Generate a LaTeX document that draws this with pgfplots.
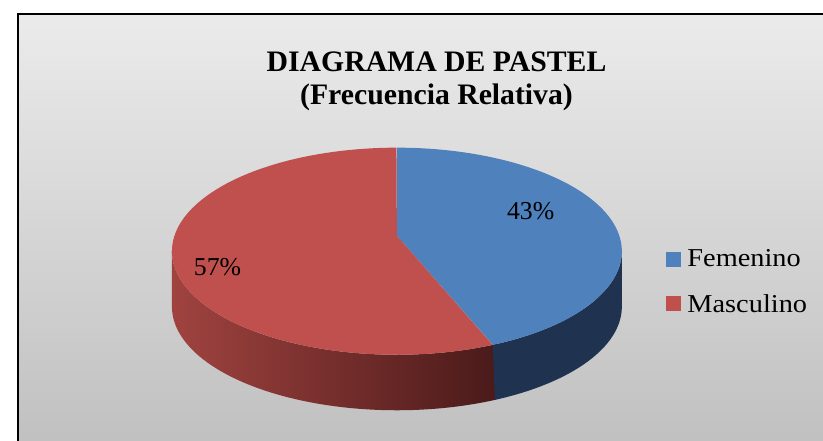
\documentclass[border=0pt]{standalone}
\usepackage{fontspec}
\setmainfont{Liberation Serif}
\newfontfamily\legfont[FakeStretch=1.1]{Liberation Serif}
\usepackage{pgfplots}
\usepackage{pgfplotstable}
\pgfplotsset{compat=1.18}
\definecolor{femtop}{HTML}{4F81BD}
\definecolor{mastop}{HTML}{C0504D}
\definecolor{femside}{HTML}{1F3350}
\definecolor{massideL}{HTML}{A0433F}
\definecolor{massideR}{HTML}{4A1A1A}
\definecolor{bgtop}{HTML}{EBEBEB}
\definecolor{bgbot}{HTML}{C0C0C0}
\pgfplotstableread{
label value
Femenino 43
Masculino 57
}\datatable
\begin{document}
\pgfplotstablegetelem{0}{value}\of\datatable \let\vfem\pgfplotsretval
\pgfplotstablegetelem{1}{value}\of\datatable \let\vmas\pgfplotsretval
\pgfmathsetmacro\angB{90-3.6*\vfem}
\pgfmathsetmacro\angE{\angB-3.6*\vmas}
\pgfmathsetmacro\angR{\angB+1}
\begin{tikzpicture}
\path[use as bounding box] (0,0) rectangle (823pt,445pt);
\begin{axis}[width=823pt,height=445pt,scale only axis,
  xmin=0,xmax=823,ymin=0,ymax=445,hide axis,clip=false,
  legend style={draw=none,fill=none,at={(axis cs:664,194)},anchor=north west,
    font=\legfont\fontsize{26}{30}\selectfont,row sep=24pt,inner sep=0pt,
    nodes={inner sep=1pt},cells={anchor=west},
    /tikz/every odd column/.append style={column sep=6pt}},
  legend image code/.code={\fill[#1] (0pt,-7.5pt) rectangle (15pt,7.5pt);},
  ]
\shade[top color=bgtop,bottom color=bgbot] (axis cs:11,-5) rectangle (axis cs:830,431);
\draw[line width=2pt,line cap=rect] (axis cs:11,-5) -- (axis cs:11,431) -- (axis cs:830,431);
% side walls
\addplot[draw=none,left color=massideL,right color=massideR,variable=\t,domain=0:2,samples=201,forget plot]
 ({393+227*cos(ifthenelse(\t<=1,\angR+(-180-\angR)*\t,-180-(-180-\angR)*(\t-1)))},
  {191.5+104.5*sin(ifthenelse(\t<=1,\angR+(-180-\angR)*\t,-180-(-180-\angR)*(\t-1)))-ifthenelse(\t<=1,0,56)});
\addplot[draw=none,fill=femside,variable=\t,domain=0:2,samples=201,forget plot]
 ({393+227*cos(ifthenelse(\t<=1,0+(\angB-0)*\t,\angB-(\angB-0)*(\t-1)))},
  {191.5+104.5*sin(ifthenelse(\t<=1,0+(\angB-0)*\t,\angB-(\angB-0)*(\t-1)))-ifthenelse(\t<=1,0,56)});
% top faces
\addplot[draw=none,fill=femtop,variable=\t,samples at={-1,0,0.01,...,1},forget plot]
 ({ifthenelse(\t<0,393,393+227*cos(90+(\angB-90)*\t))},
  {ifthenelse(\t<0,207,191.5+104.5*sin(90+(\angB-90)*\t))});
\addplot[draw=none,fill=mastop,variable=\t,samples at={-1,0,0.01,...,1},forget plot]
 ({ifthenelse(\t<0,393,393+227*cos(\angB+(\angE-\angB)*\t))},
  {ifthenelse(\t<0,207,191.5+104.5*sin(\angB+(\angE-\angB)*\t))});
\addlegendimage{fill=femtop,draw=none}
\addlegendentry{Femenino}
\addlegendimage{fill=mastop,draw=none}
\addlegendentry{Masculino}
% labels
\node[anchor=base,font=\fontsize{26}{30}\selectfont] at (axis cs:528,224) {43\%};
\node[anchor=base,font=\fontsize{26}{30}\selectfont] at (axis cs:212,167) {57\%};
% title
\node[anchor=base,font=\bfseries\fontsize{30}{33}\selectfont] at (axis cs:433,373) {DIAGRAMA DE PASTEL};
\node[anchor=base,font=\bfseries\fontsize{30}{33}\selectfont] at (axis cs:433,340) {(Frecuencia Relativa)};
\end{axis}
\end{tikzpicture}
\end{document}
